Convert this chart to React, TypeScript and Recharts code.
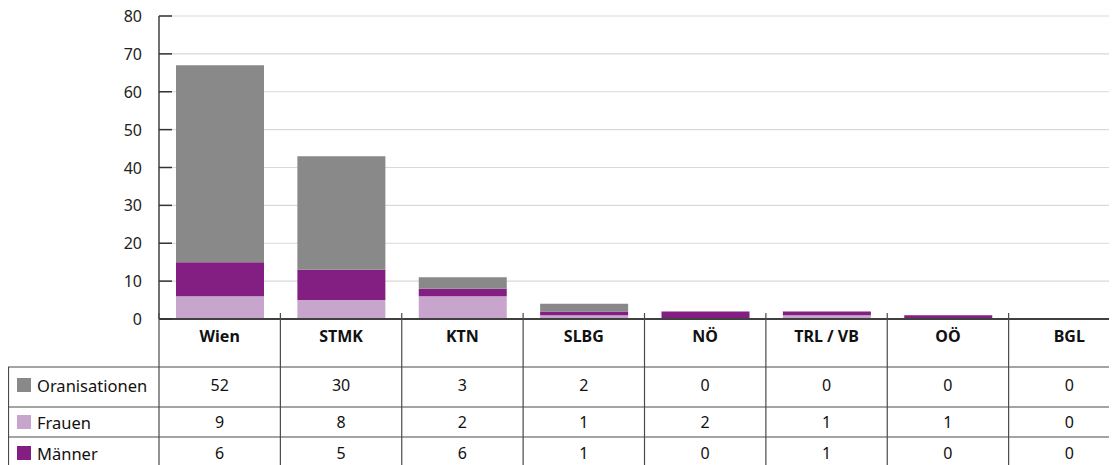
import React from "react";
import { BarChart, Bar, XAxis, YAxis, CartesianGrid } from "recharts";

const categories = ["Wien", "STMK", "KTN", "SLBG", "NÖ", "TRL / VB", "OÖ", "BGL"];
const organisationen = [52, 30, 3, 2, 0, 0, 0, 0];
const frauen = [9, 8, 2, 1, 2, 1, 1, 0];
const maenner = [6, 5, 6, 1, 0, 1, 0, 0];
const yTicks = [0, 10, 20, 30, 40, 50, 60, 70, 80];
const rowLabels = ["Oranisationen", "Frauen", "Männer"];

const GRAY = "#898989";
const LIGHT = "#c8a5cc";
const DARK = "#831f82";
const LINE = "#4a4a4a";
const FONT = "'Noto Sans', sans-serif";

const data = categories.map((c, i) => ({
  name: c,
  organisationen: organisationen[i],
  frauen: frauen[i],
  maenner: maenner[i],
}));

const rows = [
  { label: rowLabels[0], color: GRAY, values: organisationen },
  { label: rowLabels[1], color: LIGHT, values: frauen },
  { label: rowLabels[2], color: DARK, values: maenner },
];

const ROW_LINES = [48, 88, 118];
const ROW_CENTERS = [66, 103, 134];
const HEADER_CENTER = 17;
const BOTTOM = 200;

function TableTick(props: any) {
  const { x, y, payload } = props;
  const i: number = payload.index ?? props.index ?? 0;
  const half = payload && payload.offset > 0 ? payload.offset : 60.7;
  const left = x - half;
  const right = x + half;
  return (
    <g>
      <line x1={left} x2={left} y1={y - 6} y2={y + BOTTOM} stroke={LINE} strokeWidth={1.2} />
      {i === categories.length - 1 && (
        <line x1={right} x2={right} y1={y - 6} y2={y + BOTTOM} stroke={LINE} strokeWidth={1.2} />
      )}
      {ROW_LINES.map((o, k) => (
        <line key={k} x1={left} x2={right} y1={y + o} y2={y + o} stroke={LINE} strokeWidth={1.2} />
      ))}
      <text
        x={x}
        y={y + HEADER_CENTER}
        textAnchor="middle"
        dominantBaseline="central"
        fontFamily={FONT}
        fontSize={16}
        fontWeight={700}
        fill="#111"
      >
        {payload.value}
      </text>
      {rows.map((r, k) => (
        <text
          key={k}
          x={x}
          y={y + ROW_CENTERS[k]}
          textAnchor="middle"
          dominantBaseline="central"
          fontFamily={FONT}
          fontSize={16}
          fill="#111"
        >
          {r.values[i]}
        </text>
      ))}
      {i === 0 && (
        <g>
          <line x1={8.5} x2={8.5} y1={y + ROW_LINES[0]} y2={y + BOTTOM} stroke={LINE} strokeWidth={1.2} />
          {ROW_LINES.map((o, k) => (
            <line key={k} x1={8} x2={left} y1={y + o} y2={y + o} stroke={LINE} strokeWidth={1.2} />
          ))}
          {rows.map((r, k) => (
            <g key={k}>
              <rect x={17} y={y + ROW_CENTERS[k] - 7} width={14} height={14} fill={r.color} />
              <text
                x={37}
                y={y + ROW_CENTERS[k]}
                dominantBaseline="central"
                fontFamily={FONT}
                fontSize={16.5}
                fill="#111"
              >
                {r.label}
              </text>
            </g>
          ))}
        </g>
      )}
    </g>
  );
}

function YTick(props: any) {
  const { x, y, payload } = props;
  return (
    <g>
      <line x1={x + 17} x2={x + 30} y1={y} y2={y} stroke="#333" strokeWidth={1.5} />
      <text
        x={x}
        y={y}
        textAnchor="end"
        dominantBaseline="central"
        fontFamily={FONT}
        fontSize={16}
        fill="#222"
      >
        {payload.value}
      </text>
    </g>
  );
}

export default function App() {
  return (
    <div style={{ marginTop: -8, marginLeft: -8, width: 1117, height: 465, overflow: "hidden" }}>
      <BarChart
        width={1130}
        height={490}
        data={data}
        margin={{ top: 16, right: 0, left: 0, bottom: 0 }}
      >
        <CartesianGrid vertical={false} stroke="#d9d9d9" strokeWidth={1.2} />
        <YAxis
          width={159}
          domain={[0, 80]}
          ticks={yTicks}
          interval={0}
          tickLine={false}
          tickSize={0}
          tickMargin={17}
          axisLine={{ stroke: "#404040", strokeWidth: 1.5 }}
          tick={<YTick />}
        />
        <XAxis
          dataKey="name"
          height={171}
          interval={0}
          tickLine={false}
          tickSize={0}
          tickMargin={0}
          axisLine={{ stroke: "#404040", strokeWidth: 2 }}
          tick={<TableTick />}
        />
        <Bar dataKey="maenner" stackId="a" fill={LIGHT} barSize={88} isAnimationActive={false} />
        <Bar dataKey="frauen" stackId="a" fill={DARK} barSize={88} isAnimationActive={false} />
        <Bar dataKey="organisationen" stackId="a" fill={GRAY} barSize={88} isAnimationActive={false} />
      </BarChart>
    </div>
  );
}
